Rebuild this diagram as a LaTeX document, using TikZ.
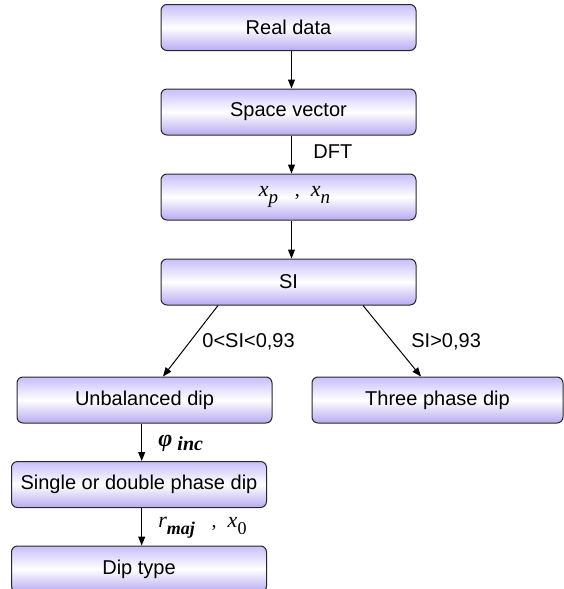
\documentclass[tikz,border=0pt]{standalone}
\usepackage{amsmath}
\usepackage{fontspec}
\setmainfont{Liberation Sans}
\newfontfamily\dipserif{Liberation Serif}
\usepackage{tikz}
\usetikzlibrary{arrows.meta}
\definecolor{diptop}{RGB}{200,190,250}
\definecolor{dipbot}{RGB}{184,170,242}
\definecolor{dipline}{RGB}{40,40,40}
\newcommand{\dipvar}[2]{{\dipserif\itshape\fontsize{11}{11}\selectfont #1\raisebox{-0.3em}{\fontsize{9.5}{9.5}\selectfont #2}}}

\tikzset{
  dipbox/.style={draw=dipline, line width=0.5pt, rounded corners=3pt,
    top color=diptop, bottom color=dipbot, middle color=white,
    minimum width=127.5pt, minimum height=23pt, inner sep=0pt},
  diparrow/.style={-{Triangle[length=4.5pt,width=3.5pt]}, line width=0.5pt},
  diplabel/.style={right, inner sep=0pt},
}

\begin{document}
\begin{tikzpicture}[x=0.5pt, y=-0.5pt]
    \useasboundingbox (0,0) rectangle (563,589);

    % Main column
    \node[dipbox] (real) at (288.5,27.5) {Real data};
    \node[dipbox] (space) at (288.5,112) {Space vector};
    \node[dipbox] (xpn) at (288.5,197) {\hspace{6pt}\dipvar{x}{p}\ \ \ {\dipserif ,}\ \ \dipvar{x}{n}};
    \node[dipbox] (si) at (288.5,282) {SI};

    \draw[diparrow] ([xshift=1.5pt]real.south) -- ([xshift=1.5pt]space.north);
    \draw[diparrow] ([xshift=1.5pt]space.south) -- ([xshift=1.5pt]xpn.north);
    \node[diplabel] (dft) at (313,152) {DFT};
    \draw[diparrow] ([xshift=1.5pt]xpn.south) -- ([xshift=1.5pt]si.north);

    % Split on SI
    \node[dipbox] (unbal) at (144.5,400) {Unbalanced dip};
    \node[dipbox, minimum width=125.5pt] (three) at (437.5,400) {Three phase dip};

    \draw[diparrow] ([xshift=-35.25pt]si.south) -- ([xshift=9.25pt]unbal.north);
    \node[diplabel] (low) at (202,342) {0<SI<0,93};
    \draw[diparrow] ([xshift=37.25pt]si.south) -- ([xshift=-8.25pt]three.north);
    \node[diplabel] (high) at (411,342) {SI>0,93};

    % Unbalanced branch
    \node[dipbox] (single) at (139,484.5) {Single or double phase dip};
    \node[dipbox] (diptype) at (139,569) {Dip type};

    \draw[diparrow] ([xshift=-1.4pt]unbal.south) -- ([xshift=1.35pt]single.north);
    \node[diplabel] (phi) at (158,443)
      {{\dipserif\bfseries\itshape\fontsize{12}{12}\selectfont φ\raisebox{-0.2em}{\fontsize{10}{10}\selectfont\ inc}}};
    \draw[diparrow] ([xshift=1.35pt]single.south) -- ([xshift=1.35pt]diptype.north);
    \node[diplabel] (rmaj) at (158,528)
      {{\dipserif\itshape\fontsize{11}{11}\selectfont r\raisebox{-0.3em}{\fontsize{9}{9}\selectfont\bfseries maj}}\ \ \ {\dipserif ,}\ \ {\dipserif\itshape\fontsize{11}{11}\selectfont x\raisebox{-0.3em}{\fontsize{9}{9}\selectfont\upshape 0}}};
\end{tikzpicture}
\end{document}
